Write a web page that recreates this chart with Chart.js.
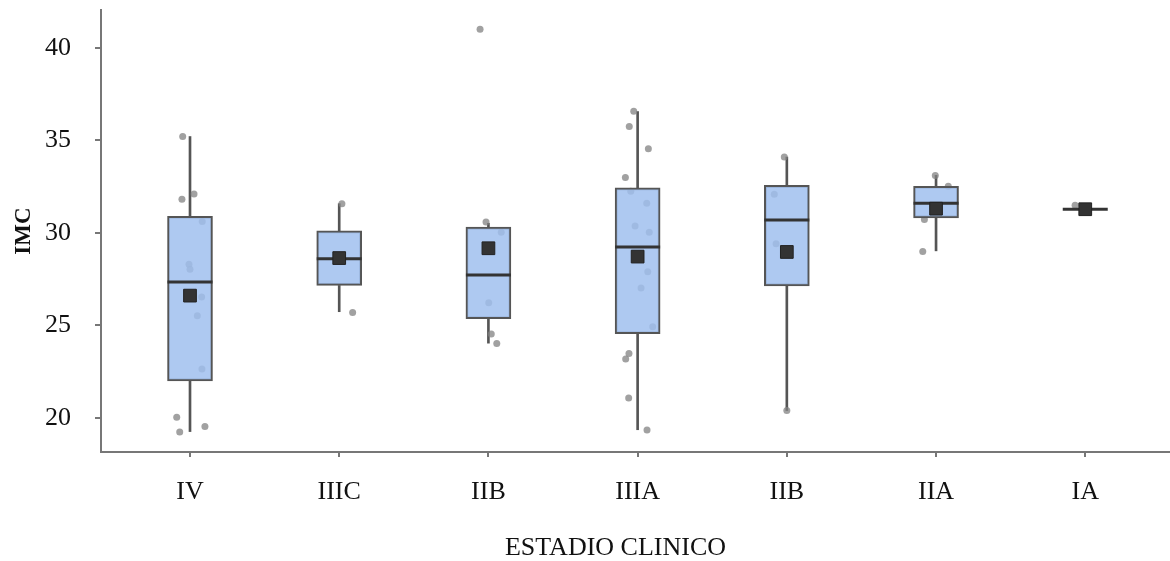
<!DOCTYPE html>
<html>
<head>
<meta charset="utf-8">
<script src="https://cdn.jsdelivr.net/npm/chart.js@4"></script>
<style>
  html, body { margin: 0; padding: 0; background: #fff; }
  #wrap { width: 1170px; height: 561px; }
</style>
</head>
<body>
<div id="wrap"><canvas id="chart" width="1170" height="561"></canvas></div>
<script>
// IMC por estadio clinico - boxplot + puntos + media

const CATEGORIES = ["IV", "IIIC", "IIB", "IIIA", "IIB", "IIA", "IA"];
const WHISKER_LOW  = [19.25, 25.73, 24.03, 19.35, 20.39, 29.02, 31.27];
const Q1           = [21.99, 27.15, 25.35, 24.54, 27.13, 30.80, 31.27];
const MEDIAN       = [27.33, 28.59, 27.71, 29.23, 30.69, 31.59, 31.27];
const Q3           = [30.89, 30.10, 30.30, 32.42, 32.56, 32.51, 31.27];
const WHISKER_HIGH = [35.20, 31.57, 30.51, 36.55, 34.09, 33.10, 31.27];
const MEAN         = [26.60, 28.63, 29.16, 28.71, 28.96, 31.30, 31.27];

// observaciones individuales (valor) y desplazamiento horizontal del jitter
const POINT_Y = [
  [35.20, 32.09, 31.81, 30.60, 28.29, 28.03, 26.52, 25.51, 22.63, 20.02, 19.23, 19.53],
  [31.57, 25.69],
  [41.00, 30.58, 30.03, 26.22, 24.53, 24.01],
  [36.57, 35.74, 34.54, 32.99, 32.24, 31.59, 30.37, 30.03, 27.89, 27.01, 24.92, 23.47, 23.18, 21.06, 19.33],
  [34.09, 32.08, 29.40, 20.39],
  [33.10, 32.51, 30.71, 28.99],
  [31.48]
];
const POINT_DX = [
  [-0.049, 0.027, -0.054, 0.082, -0.007, 0.0, 0.078, 0.049, 0.080, -0.089, -0.069, 0.100],
  [0.018, 0.090],
  [-0.056, -0.016, 0.086, 0.002, 0.019, 0.056],
  [-0.026, -0.056, 0.072, -0.082, -0.046, 0.061, -0.017, 0.078, 0.068, 0.023, 0.101, -0.058, -0.080, -0.060, 0.063],
  [-0.017, -0.084, -0.072, 0.0],
  [-0.005, 0.082, -0.078, -0.089],
  [-0.068]
];
const Y_TICKS = [20, 25, 30, 35, 40];
const X_TITLE = "ESTADIO CLINICO";

const SERIF = "'Liberation Serif', 'Times New Roman', serif";
const AXIS_COLOR = "#777";

const points = [];
POINT_Y.forEach((vals, i) => {
  vals.forEach((v, j) => points.push({ x: i + POINT_DX[i][j], y: v }));
});

const lowerWhisker = CATEGORIES.map((c, i) => ({ x: i, y: [WHISKER_LOW[i], Q1[i]] }));
const upperWhisker = CATEGORIES.map((c, i) => ({ x: i, y: [Q3[i], WHISKER_HIGH[i]] }));
const boxes = CATEGORIES.map((c, i) => ({ x: i, y: [Q1[i], Q3[i]] }));
const medians = CATEGORIES.map((c, i) => ({ x: i, y: MEDIAN[i] }));
const means = CATEGORIES.map((c, i) => ({ x: i, y: MEAN[i] }));

// titulo del eje x, un poco a la izquierda del centro como en la figura original
const xTitlePlugin = {
  id: "xTitle",
  afterDraw(chart) {
    const { ctx, chartArea } = chart;
    ctx.save();
    ctx.font = "26px " + SERIF;
    ctx.fillStyle = "#111";
    ctx.textAlign = "center";
    ctx.textBaseline = "middle";
    ctx.fillText(X_TITLE, (chartArea.left + chartArea.right) / 2 - 20, chart.height - 13);
    ctx.restore();
  }
};

new Chart(document.getElementById("chart"), {
  type: "bar",
  data: {
    datasets: [
      { type: "scatter", label: "media", data: means, order: 0,
        pointStyle: "rect", pointRadius: 9, pointBackgroundColor: "#333",
        pointBorderColor: "#222", pointBorderWidth: 1 },
      { type: "scatter", label: "mediana", data: medians, order: 1,
        pointStyle: "line", pointRadius: 22.5, pointBorderColor: "#333",
        pointBorderWidth: 3 },
      { label: "caja", data: boxes, order: 2, barThickness: 45, grouped: false,
        backgroundColor: "rgba(160,192,238,0.85)", borderColor: "#555",
        borderWidth: 2, borderSkipped: false },
      { type: "scatter", label: "obs", data: points, order: 3,
        pointRadius: 3.5, pointBackgroundColor: "rgba(130,130,130,0.75)",
        pointBorderWidth: 0 },
      { label: "bigote inf", data: lowerWhisker, order: 4, barThickness: 2, grouped: false,
        backgroundColor: "#555", borderWidth: 0 },
      { label: "bigote sup", data: upperWhisker, order: 4, barThickness: 2, grouped: false,
        backgroundColor: "#555", borderWidth: 0 }
    ]
  },
  options: {
    responsive: false,
    animation: false,
    devicePixelRatio: 1,
    layout: { autoPadding: false, padding: { left: 10, right: 0, top: 10, bottom: 0 } },
    plugins: { legend: { display: false }, tooltip: { enabled: false } },
    scales: {
      x: {
        type: "linear",
        offset: false,
        min: -0.5965,
        max: 6.568,
        afterBuildTicks: s => { s.ticks = CATEGORIES.map((c, i) => ({ value: i })); },
        afterFit: s => { s.height = 109; s.paddingLeft = 0; s.paddingRight = 0; },
        grid: { display: true, drawOnChartArea: false, drawTicks: true, tickLength: 5,
                color: AXIS_COLOR, lineWidth: 2, offset: false },
        border: { display: true, color: AXIS_COLOR, width: 2 },
        ticks: {
          callback: v => CATEGORIES[v],
          font: { family: SERIF, size: 26 },
          color: "#111",
          padding: 20,
          maxRotation: 0,
          autoSkip: false
        },
        title: { display: false }
      },
      y: {
        min: 18.146,
        max: 42.04,
        afterBuildTicks: s => { s.ticks = Y_TICKS.map(v => ({ value: v })); },
        afterFit: s => { s.width = 91; s.paddingTop = 0; s.paddingBottom = 0; },
        grid: { display: true, drawOnChartArea: false, drawTicks: true, tickLength: 6,
                color: AXIS_COLOR, lineWidth: 2 },
        border: { display: true, color: AXIS_COLOR, width: 2 },
        ticks: {
          font: { family: SERIF, size: 26 },
          color: "#111",
          padding: 24
        },
        title: {
          display: true,
          text: "IMC",
          font: { family: SERIF, size: 23, weight: "bold" },
          color: "#111",
          padding: { top: 0, bottom: 0 }
        }
      }
    }
  },
  plugins: [xTitlePlugin]
});
</script>
</body>
</html>
